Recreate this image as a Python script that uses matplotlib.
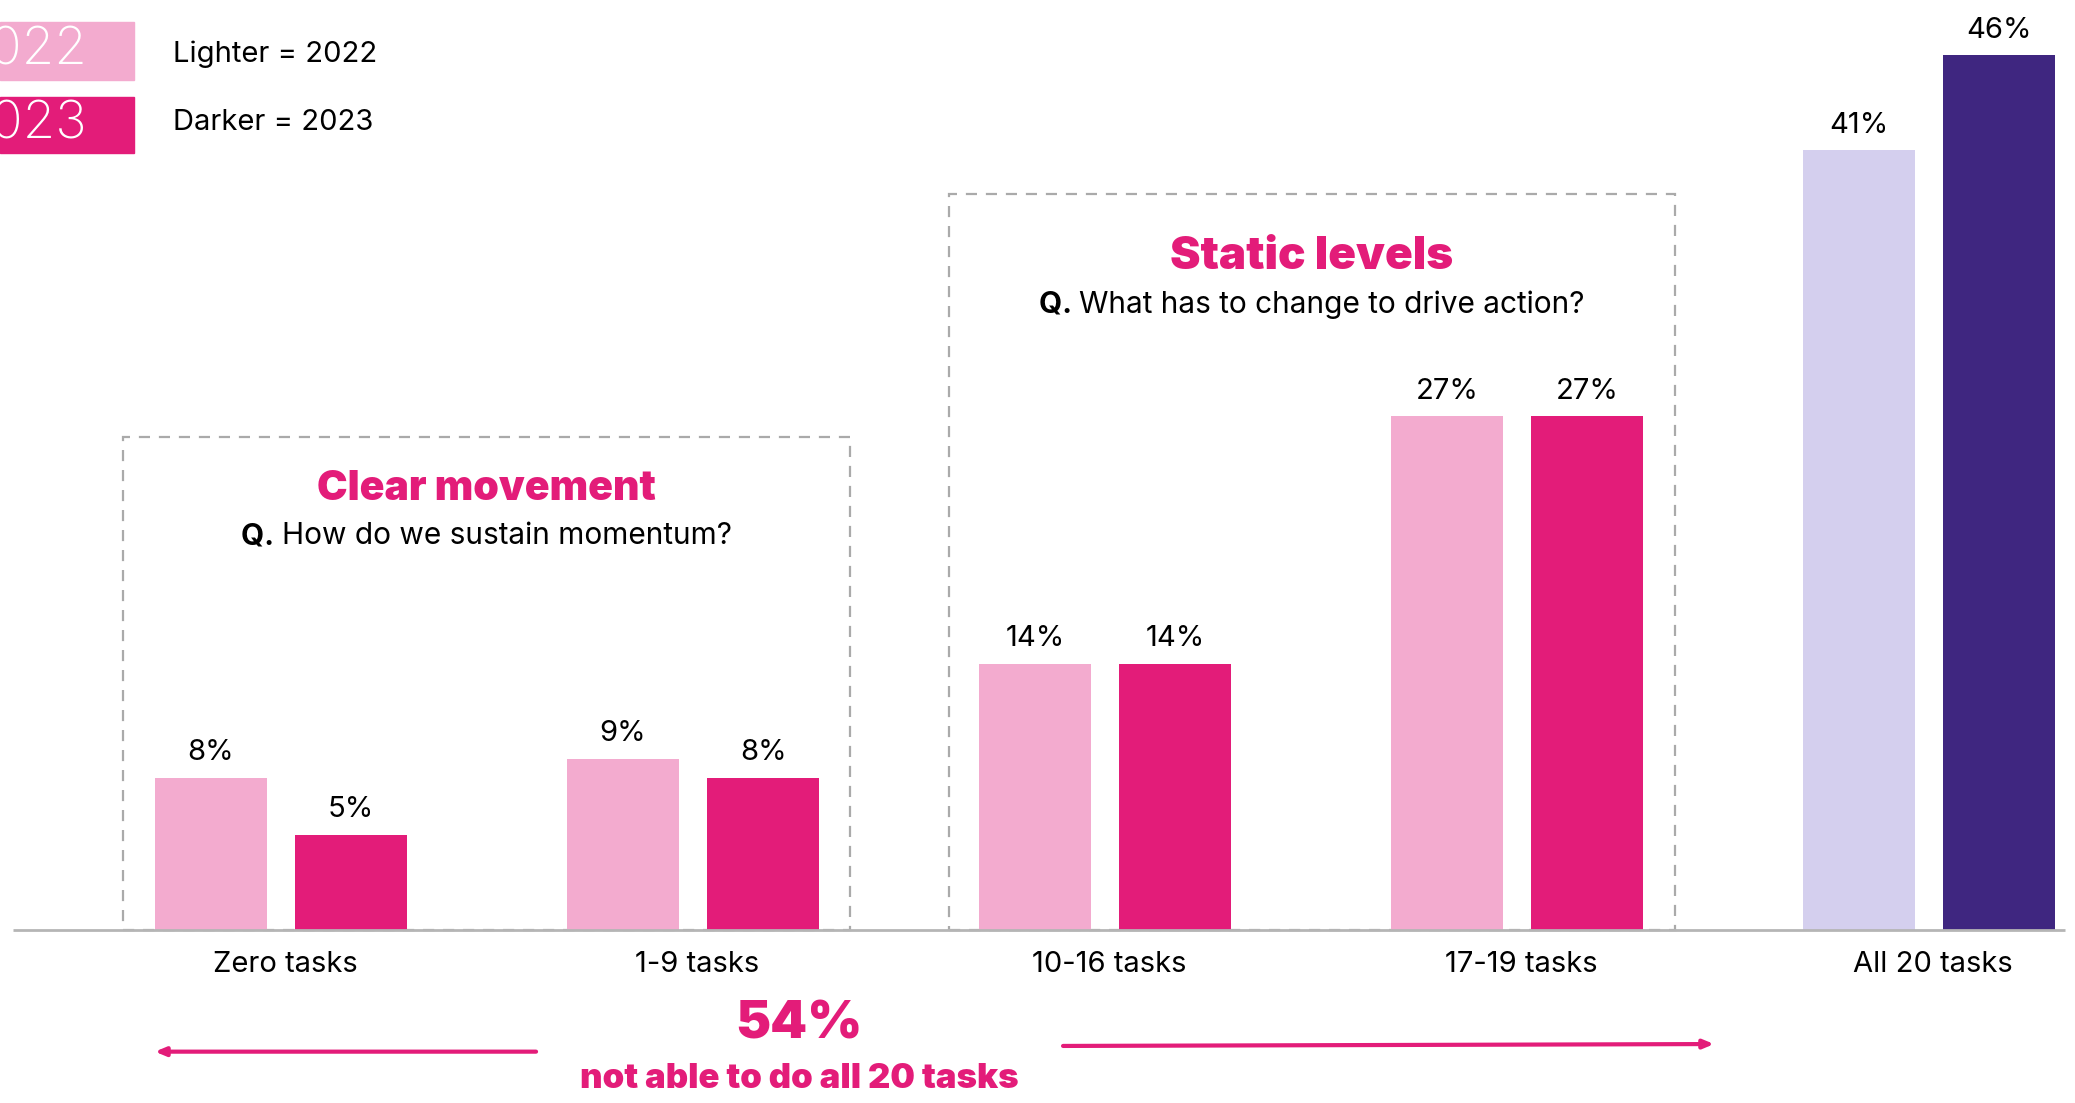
import matplotlib
matplotlib.use('Agg')
import matplotlib.pyplot as plt
from matplotlib.patches import Rectangle
import numpy as np

plt.rcParams['font.family'] = ['Inter', 'DejaVu Sans']

categories = ['Zero tasks', '1-9 tasks', '10-16 tasks', '17-19 tasks', 'All 20 tasks']
values_2022 = [8, 9, 14, 27, 41]
values_2023 = [5, 8, 14, 27, 46]

PINK = '#e31c79'
LIGHT_PINK = '#f3abcf'
LAVENDER = '#d4cfee'
PURPLE = '#3f2680'
GREY = '#aaaaaa'

light_colors = [LIGHT_PINK] * 4 + [LAVENDER]
dark_colors = [PINK] * 4 + [PURPLE]

W, H = 2075, 1103
fig = plt.figure(figsize=(W / 100, H / 100), dpi=100)
ax = fig.add_axes([0, 0, 1, 1])
ax.set_xlim(-0.682, 4.354)
ax.set_ylim(-9.1, 48.9)
ax.axis('off')

x = np.arange(len(categories))
bw = 0.272
off = 0.170
ax.bar(x - off, values_2022, bw, color=light_colors, zorder=2)
ax.bar(x + off, values_2023, bw, color=dark_colors, zorder=2)

for xi, v in zip(x - off, values_2022):
    ax.text(xi, v + 0.6, f'{v}%', ha='center', va='bottom', fontsize=21)
for xi, v in zip(x + off, values_2023):
    ax.text(xi, v + 0.6, f'{v}%', ha='center', va='bottom', fontsize=21)

# baseline
ax.plot([-0.65, 4.33], [0, 0], color='#b5b5b5', lw=2, zorder=3, solid_capstyle='butt')

for xi, c in zip(x, categories):
    ax.text(xi + 0.01, -1.1, c, ha='center', va='top', fontsize=21)

# dashed boxes
for (x0, x1, top) in [(-0.383, 1.381, 25.9), (1.621, 3.383, 38.7)]:
    ax.add_patch(Rectangle((x0, 0), x1 - x0, top, fill=False, ec=GREY,
                           lw=1.6, ls=(0, (5, 4)), zorder=1))

fig.canvas.draw()
renderer = fig.canvas.get_renderer()


def q_line(xc, y, rest):
    t1 = ax.text(0, y, 'Q. ', fontsize=21.5, fontweight='bold', va='center')
    t2 = ax.text(0, y, rest, fontsize=21.5, va='center')
    w1 = t1.get_window_extent(renderer).width
    w2 = t2.get_window_extent(renderer).width
    inv = ax.transData.inverted()
    xc_px = ax.transData.transform((xc, y))[0]
    start = xc_px - (w1 + w2) / 2
    t1.set_x(inv.transform((start, 0))[0])
    t2.set_x(inv.transform((start + w1, 0))[0])


ax.text(0.499, 23.2, 'Clear movement', ha='center', va='center', fontsize=29.5,
        fontweight='black', color=PINK)
q_line(0.499, 20.7, 'How do we sustain momentum?')

ax.text(2.502, 35.4, 'Static levels', ha='center', va='center', fontsize=33,
        fontweight='black', color=PINK)
q_line(2.502, 32.9, 'What has to change to drive action?')

# bottom annotation
ax.text(1.257, -5.0, '54%', ha='center', va='center', fontsize=38,
        fontweight='black', color=PINK)
ax.text(1.257, -7.85, 'not able to do all 20 tasks', ha='center', va='center',
        fontsize=25, fontweight='black', color=PINK)
ax.annotate('', xy=(-0.306, -6.4), xytext=(0.619, -6.4),
            arrowprops=dict(arrowstyle='-|>,head_length=0.6,head_width=0.25',
                            color=PINK, lw=3, shrinkA=0, shrinkB=0))
ax.annotate('', xy=(3.478, -6.0), xytext=(1.898, -6.1),
            arrowprops=dict(arrowstyle='-|>,head_length=0.6,head_width=0.25',
                            color=PINK, lw=3, shrinkA=0, shrinkB=0))

# legend swatches
fig.patches.append(Rectangle((0, 1 - 80 / H), 134 / W, 58 / H, color=LIGHT_PINK,
                             transform=fig.transFigure, figure=fig))
fig.patches.append(Rectangle((0, 1 - 153 / H), 134 / W, 56 / H, color=PINK,
                             transform=fig.transFigure, figure=fig))
fig.text(87 / W, 1 - 51 / H, '2022', ha='right', va='center', fontsize=38,
         color='white', fontweight='light')
fig.text(87 / W, 1 - 125 / H, '2023', ha='right', va='center', fontsize=38,
         color='white', fontweight='light')
fig.text(173 / W, 1 - 54 / H, 'Lighter = 2022', ha='left', va='center', fontsize=21)
fig.text(173 / W, 1 - 123 / H, 'Darker = 2023', ha='left', va='center', fontsize=21)

fig.savefig('out.png', dpi=100)
